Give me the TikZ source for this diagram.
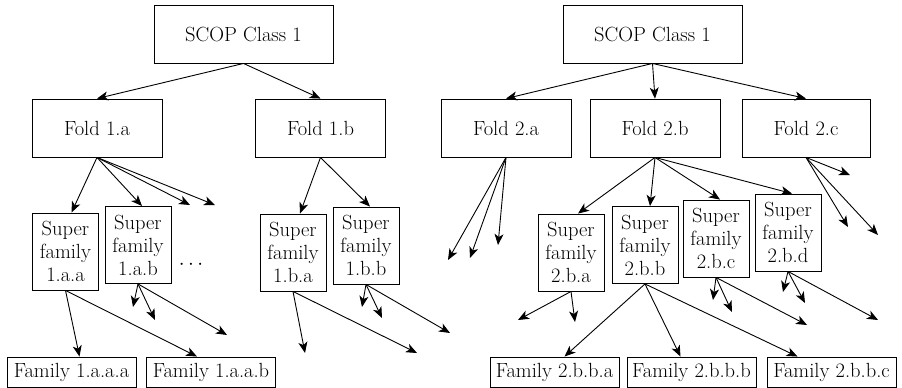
\documentclass[tikz,border=0pt]{standalone}
\usepackage{tikz}
\usetikzlibrary{arrows.meta}
\tikzset{
    tree-box/.style = {draw, line width=0.9pt, rectangle, inner sep=2pt, align=center, font=\fontsize{20.5}{23}\selectfont},
    class-box/.style = {tree-box, minimum width=179pt, minimum height=58pt},
    fold-box/.style = {tree-box, minimum width=130pt, minimum height=58pt},
    super-box/.style = {tree-box, minimum width=66pt, minimum height=77pt},
    family-box/.style = {tree-box, minimum width=129pt, minimum height=30pt},
    tree-arrow/.style = {-{Stealth[length=11pt, width=9pt, inset=3pt]}, line width=0.9pt},
}

\begin{document}
\begin{tikzpicture}[x=1pt, y=-1pt]
\useasboundingbox (0,0) rectangle (902,388);

% left tree
\node[class-box] (class1) at (243.5,34) {SCOP Class 1};
\node[fold-box] (fold1a) at (97,128) {Fold 1.a};
\node[fold-box] (fold1b) at (320.5,128) {Fold 1.b};
\node[super-box] (sf1aa) at (65.5,251.5) {Super\\family\\1.a.a};
\node[super-box] (sf1ab) at (138,245) {Super\\family\\1.a.b};
\node[super-box] (sf1ba) at (293,252.5) {Super\\family\\1.b.a};
\node[super-box] (sf1bb) at (366,245.5) {Super\\family\\1.b.b};
\node[font=\fontsize{20.5}{23}\selectfont] (dots1a) at (191,265) {$\cdots$};
\node[family-box] (fam1aaa) at (71.5,372) {Family 1.a.a.a};
\node[family-box] (fam1aab) at (211,372) {Family 1.a.a.b};

\coordinate (e1a1) at (190,205);
\coordinate (e1a2) at (215,205);
\coordinate (e1ab1) at (133,307);
\coordinate (e1ab2) at (155,320);
\coordinate (e1ab3) at (227,335);
\coordinate (e1ba1) at (305,353);
\coordinate (e1ba2) at (417,353);
\coordinate (e1bb1) at (362,307);
\coordinate (e1bb2) at (382,318);
\coordinate (e1bb3) at (450,333);

\draw[tree-arrow] (class1.south) -- (fold1a.north);
\draw[tree-arrow] (class1.south) -- (fold1b.north);
\draw[tree-arrow] (fold1a.south) -- ([xshift=6pt]sf1aa.north);
\draw[tree-arrow] (fold1a.south) -- ([xshift=4pt]sf1ab.north);
\draw[tree-arrow] (fold1a.south) -- (e1a1);
\draw[tree-arrow] (fold1a.south) -- (e1a2);
\draw[tree-arrow] (fold1b.south) -- ([xshift=7pt]sf1ba.north);
\draw[tree-arrow] (fold1b.south) -- ([xshift=4pt]sf1bb.north);
\draw[tree-arrow] (sf1aa.south) -- ([xshift=8pt]fam1aaa.north);
\draw[tree-arrow] (sf1aa.south) -- ([xshift=-14pt]fam1aab.north);
\draw[tree-arrow] (sf1ab.south) -- (e1ab1);
\draw[tree-arrow] (sf1ab.south) -- (e1ab2);
\draw[tree-arrow] (sf1ab.south) -- (e1ab3);
\draw[tree-arrow] (sf1ba.south) -- (e1ba1);
\draw[tree-arrow] (sf1ba.south) -- (e1ba2);
\draw[tree-arrow] (sf1bb.south) -- (e1bb1);
\draw[tree-arrow] (sf1bb.south) -- (e1bb2);
\draw[tree-arrow] (sf1bb.south) -- (e1bb3);

% right tree
\node[class-box] (class2) at (652.5,34) {SCOP Class 1};
\node[fold-box] (fold2a) at (506,128) {Fold 2.a};
\node[fold-box] (fold2b) at (655,128) {Fold 2.b};
\node[fold-box, minimum width=128pt] (fold2c) at (806,128) {Fold 2.c};
\node[super-box] (sf2ba) at (571,252.5) {Super\\family\\2.b.a};
\node[super-box] (sf2bb) at (645,245) {Super\\family\\2.b.b};
\node[super-box] (sf2bc) at (716,238.5) {Super\\family\\2.b.c};
\node[super-box] (sf2bd) at (788,232.5) {Super\\family\\2.b.d};
\node[family-box] (fam2bba) at (554.5,372) {Family 2.b.b.a};
\node[family-box] (fam2bbb) at (691.5,372) {Family 2.b.b.b};
\node[family-box] (fam2bbc) at (831.5,372) {Family 2.b.b.c};

\coordinate (e2a1) at (448,260);
\coordinate (e2a2) at (470,258);
\coordinate (e2a3) at (498,245);
\coordinate (e2c1) at (850,175);
\coordinate (e2c2) at (848,227);
\coordinate (e2c3) at (878,235);
\coordinate (e2ba1) at (518,320);
\coordinate (e2ba2) at (575,322);
\coordinate (e2bc1) at (713,300);
\coordinate (e2bc2) at (732,312);
\coordinate (e2bc3) at (807,325);
\coordinate (e2bd1) at (783,292);
\coordinate (e2bd2) at (805,303);
\coordinate (e2bd3) at (878,320);

\draw[tree-arrow] (class2.south) -- (fold2a.north);
\draw[tree-arrow] (class2.south) -- (fold2b.north);
\draw[tree-arrow] (class2.south) -- (fold2c.north);
\draw[tree-arrow] (fold2a.south) -- (e2a1);
\draw[tree-arrow] (fold2a.south) -- (e2a2);
\draw[tree-arrow] (fold2a.south) -- (e2a3);
\draw[tree-arrow] (fold2b.south) -- ([xshift=7pt]sf2ba.north);
\draw[tree-arrow] (fold2b.south) -- ([xshift=5pt]sf2bb.north);
\draw[tree-arrow] (fold2b.south) -- ([xshift=4pt]sf2bc.north);
\draw[tree-arrow] (fold2b.south) -- ([xshift=4pt]sf2bd.north);
\draw[tree-arrow] (fold2c.south) -- (e2c1);
\draw[tree-arrow] (fold2c.south) -- (e2c2);
\draw[tree-arrow] (fold2c.south) -- (e2c3);
\draw[tree-arrow] (sf2ba.south) -- (e2ba1);
\draw[tree-arrow] (sf2ba.south) -- (e2ba2);
\draw[tree-arrow] (sf2bb.south) -- ([xshift=10pt]fam2bba.north);
\draw[tree-arrow] (sf2bb.south) -- ([xshift=-11pt]fam2bbb.north);
\draw[tree-arrow] (sf2bb.south) -- ([xshift=-34pt]fam2bbc.north);
\draw[tree-arrow] (sf2bc.south) -- (e2bc1);
\draw[tree-arrow] (sf2bc.south) -- (e2bc2);
\draw[tree-arrow] (sf2bc.south) -- (e2bc3);
\draw[tree-arrow] (sf2bd.south) -- (e2bd1);
\draw[tree-arrow] (sf2bd.south) -- (e2bd2);
\draw[tree-arrow] (sf2bd.south) -- (e2bd3);
\end{tikzpicture}
\end{document}
